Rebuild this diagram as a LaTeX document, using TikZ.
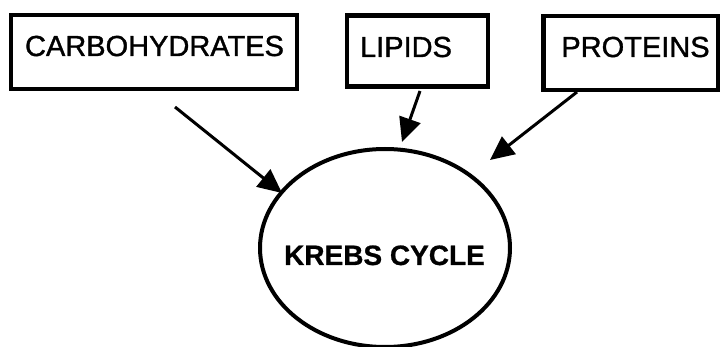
\documentclass[tikz,border=0pt]{standalone}
\usepackage{fontspec}
\setmainfont{Liberation Sans}
\newfontfamily\heavyfont[FakeBold=1.2]{Liberation Sans}
\newfontfamily\heavybold[FakeBold=0.8]{Liberation Sans Bold}
\usetikzlibrary{arrows.meta,shapes.geometric}
\begin{document}
\begin{tikzpicture}[x=1pt,y=-1pt,
  boxst/.style={draw,line width=4.5pt,rectangle,inner sep=0pt},
  lbl/.style={font=\heavyfont\fontsize{29}{32}\selectfont,anchor=base,inner sep=0pt},
  arr/.style={line width=3pt,-{Triangle[length=24pt,width=22pt]}}]
\useasboundingbox (0,0) rectangle (720,347);
\node[boxst,minimum width=286pt,minimum height=74pt] (carb) at (154,52) {};
\node[boxst,minimum width=141pt,minimum height=71pt] (lip) at (417.5,51) {};
\node[boxst,minimum width=175pt,minimum height=74pt] (prot) at (631,53) {};
\node[lbl] (carbt) at (154.5,56) {CARBOHYDRATES};
\node[lbl] (lipt) at (406,57) {LIPIDS};
\node[lbl] (prott) at (635.5,57) {PROTEINS};
\node[draw,ellipse,line width=4pt,minimum width=250pt,minimum height=198pt,inner sep=0pt] (krebs) at (385,248) {};
\node[lbl,font=\heavybold\fontsize{28}{32}\selectfont] (krebst) at (384.5,265) {KREBS CYCLE};
\coordinate (c1) at (175,107);
\coordinate (c2) at (282,193);
\coordinate (l1) at (420,91);
\coordinate (l2) at (402,142);
\coordinate (p1) at (577,92);
\coordinate (p2) at (490,160);
\draw[arr] (c1) -- (c2);
\draw[arr] (l1) -- (l2);
\draw[arr] (p1) -- (p2);
\end{tikzpicture}
\end{document}
